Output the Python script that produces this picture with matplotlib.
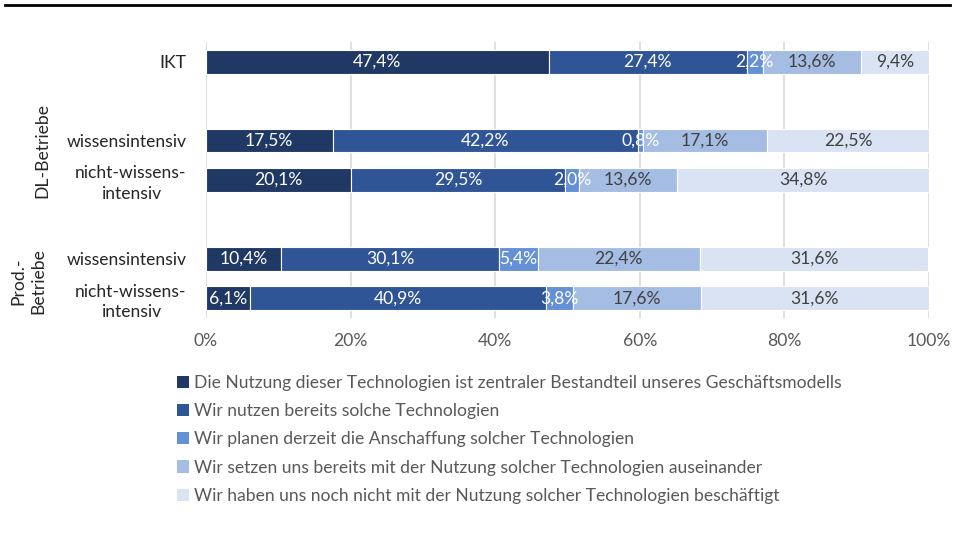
import numpy as np
import matplotlib
matplotlib.use("Agg")
from matplotlib import pyplot as plt
from matplotlib.patches import Patch
from matplotlib.lines import Line2D

plt.rcParams['font.family'] = ['Lato', 'DejaVu Sans']

# Daten
kategorien = ["IKT", "wissensintensiv", "nicht-wissens-\nintensiv",
              "wissensintensiv", "nicht-wissens-\nintensiv"]
positionen = [0, 2, 3, 5, 6]
antworten = [
    "Die Nutzung dieser Technologien ist zentraler Bestandteil unseres Geschäftsmodells",
    "Wir nutzen bereits solche Technologien",
    "Wir planen derzeit die Anschaffung solcher Technologien",
    "Wir setzen uns bereits mit der Nutzung solcher Technologien auseinander",
    "Wir haben uns noch nicht mit der Nutzung solcher Technologien beschäftigt",
]
zentral = [47.4, 17.5, 20.1, 10.4, 6.1]
nutzen = [27.4, 42.2, 29.5, 30.1, 40.9]
planen = [2.2, 0.8, 2.0, 5.4, 3.8]
auseinander = [13.6, 17.1, 13.6, 22.4, 17.6]
nicht_beschaeftigt = [9.4, 22.5, 34.8, 31.6, 31.6]
gruppen = ["DL-Betriebe", "Prod.-\nBetriebe"]

farben = ["#203864", "#2F5597", "#6490D6", "#A5BDE3", "#DAE3F3"]
textfarben = ["white", "white", "white", "#404040", "#404040"]
fs = 12.6

fig = plt.figure(figsize=(9.55, 5.35), dpi=100)
ax = fig.add_axes([206 / 955, 1 - 318 / 535, 723 / 955, 276 / 535])

serien = [zentral, nutzen, planen, auseinander, nicht_beschaeftigt]
links = np.zeros(len(kategorien))
for werte, farbe, tf in zip(serien, farben, textfarben):
    werte = np.array(werte)
    ax.barh(positionen, werte, left=links, height=0.6, color=farbe,
            edgecolor="white", linewidth=0.8, zorder=3)
    for p, l, w in zip(positionen, links, werte):
        ax.text(l + w / 2, p, ("%.1f%%" % w).replace(".", ","), ha="center",
                va="center", color=tf, fontsize=fs, zorder=4)
    links += werte

ax.set_xlim(0, 100)
ax.set_ylim(6.5, -0.5)
ax.set_xticks(np.arange(0, 101, 20))
ax.set_xticklabels(["%d%%" % v for v in range(0, 101, 20)])
ax.set_yticks(positionen)
ax.set_yticklabels(kategorien, multialignment="center", linespacing=1.35)
ax.tick_params(length=0, labelsize=fs, labelcolor="#262626")
ax.tick_params(axis="y", pad=14)
ax.tick_params(axis="x", pad=11, labelcolor="#595959")
ax.grid(axis="x", color="#D9D9D9", linewidth=1.2, zorder=0)
for s in ax.spines.values():
    s.set_visible(False)

# Gruppenbeschriftungen
fig.text(42 / 955, 1 - 150 / 535, gruppen[0], rotation=90, ha="center",
         va="center", fontsize=fs, color="#262626")
fig.text(28 / 955, 1 - 281 / 535, gruppen[1], rotation=90, ha="center",
         va="center", fontsize=fs, color="#262626", multialignment="center",
         linespacing=1.3)

# Linie oben
fig.add_artist(Line2D([5 / 955, 950 / 955], [1 - 5 / 535, 1 - 5 / 535],
                      color="black", linewidth=2))

handles = [Patch(facecolor=f, edgecolor="none") for f in farben]
fig.legend(handles, antworten, loc="upper left",
           bbox_to_anchor=(168 / 955, 1 - 366 / 535), frameon=False,
           fontsize=fs, labelcolor="#595959", handlelength=0.7,
           handleheight=0.7, handletextpad=0.3, labelspacing=0.7,
           borderpad=0)

fig.savefig("out.png", dpi=100)
